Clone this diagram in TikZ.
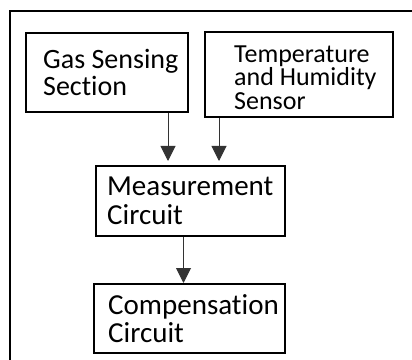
\documentclass[tikz,border=0pt]{standalone}
\usepackage{fontspec}
\setmainfont{Carlito}[Ligatures=NoCommon]
\usepackage{tikz}
\usetikzlibrary{arrows.meta, positioning}

\begin{document}
\begin{tikzpicture}[x=1pt, y=1pt,
    blk/.style={draw, line width=2pt, inner sep=0pt},
    lbl/.style={align=left, inner sep=0pt, anchor=west,
                font=\fontsize{28}{27}\selectfont},
    arr/.style={draw=black!80, line width=1pt, -{Triangle[length=15pt, width=15pt]}}]
  \useasboundingbox (0,0) rectangle (412,359);
  \clip (0,0) rectangle (412,359);
  % outer frame, cut by the page on the right and at the bottom
  \draw[line width=2pt] (10,-20) rectangle (430,348);

  \node[blk, minimum width=162pt, minimum height=79pt] (gas) at (107,286.5) {};
  \node[blk, minimum width=188pt, minimum height=85pt] (temp) at (299,284.5) {};
  \node[blk, minimum width=189pt, minimum height=70pt] (meas) at (190.5,158) {};
  \node[blk, minimum width=191pt, minimum height=69pt] (comp) at (189.5,40.5) {};

  \node[lbl, right=18pt of gas.west] (gastxt) {Gas Sensing\\Section};
  \node[lbl, right=30pt of temp.west, yshift=-3pt, font=\fontsize{26}{23.5}\selectfont]
       (temptxt) {Temperature\\and Humidity\\Sensor};
  \node[lbl, right=12pt of meas.west, font=\fontsize{29}{29}\selectfont]
       (meastxt) {Measurement\\Circuit};
  \node[lbl, right=15pt of comp.west, font=\fontsize{29}{28}\selectfont]
       (comptxt) {Compensation\\Circuit};

  \draw[arr, shorten >=4pt] ([xshift=61pt]gas.south) -- ([xshift=61pt]gas.south |- meas.north);
  \draw[arr, shorten >=4pt] ([xshift=-80pt]temp.south) -- ([xshift=-80pt]temp.south |- meas.north);
  \draw[arr] ([xshift=-7pt]meas.south) -- ([xshift=-7pt]meas.south |- comp.north);
\end{tikzpicture}
\end{document}
